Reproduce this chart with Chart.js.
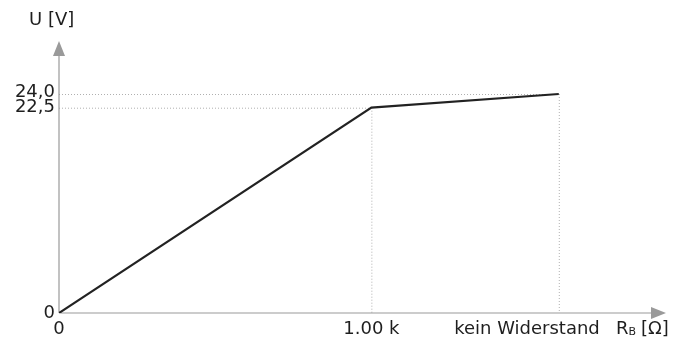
<!DOCTYPE html>
<html>
<head>
<meta charset="utf-8">
<script src="https://cdn.jsdelivr.net/npm/chart.js@4"></script>
<style>
  html, body { margin: 0; padding: 0; background: #fff; }
  canvas { display: block; }
</style>
</head>
<body>
<canvas id="chart" width="683" height="347"></canvas>
<script>
// schematic x positions: 0, 1.00 k, "kein Widerstand" (no resistor)
const xPositions = [0, 1, 1.6];
const xLabels = ["0", "1.00 k", "kein Widerstand"];
const voltage = [0, 22.5, 24.0];
const yTicks = [0, 22.5, 24.0];
const yLabels = ["0", "22,5", "24,0"];

const FAMILY = '"DejaVu Sans", sans-serif';
const FONT = "18px " + FAMILY;
const TEXT = "#1e1e1e";
const AXIS = "#9a9a9a";

const axesPlugin = {
    id: "axes",
    beforeDatasetsDraw(chart) {
        const { ctx, chartArea: a, scales: { x, y } } = chart;
        ctx.save();

        // dotted guide lines
        ctx.strokeStyle = "#b0b0b0";
        ctx.lineWidth = 1;
        ctx.setLineDash([1, 2]);
        for (let i = 1; i < xPositions.length; i++) {
            const px = x.getPixelForValue(xPositions[i]);
            const py = y.getPixelForValue(voltage[i]);
            ctx.beginPath();
            ctx.moveTo(a.left, py + 0.5);
            ctx.lineTo(px, py + 0.5);
            ctx.moveTo(px + 0.5, py);
            ctx.lineTo(px + 0.5, a.bottom);
            ctx.stroke();
        }
        ctx.setLineDash([]);

        // axes with arrows
        const ox = x.getPixelForValue(0), oy = y.getPixelForValue(0);
        ctx.strokeStyle = AXIS;
        ctx.fillStyle = AXIS;
        ctx.lineWidth = 1.2;
        ctx.beginPath();
        ctx.moveTo(ox, oy);
        ctx.lineTo(ox, a.top + 10);
        ctx.moveTo(ox, oy);
        ctx.lineTo(a.right - 10, oy);
        ctx.stroke();
        ctx.beginPath();
        ctx.moveTo(ox, a.top - 1);
        ctx.lineTo(ox - 6, a.top + 14);
        ctx.lineTo(ox + 6, a.top + 14);
        ctx.closePath();
        ctx.fill();
        ctx.beginPath();
        ctx.moveTo(a.right + 1, oy);
        ctx.lineTo(a.right - 14, oy - 6);
        ctx.lineTo(a.right - 14, oy + 6);
        ctx.closePath();
        ctx.fill();

        // tick labels
        ctx.fillStyle = TEXT;
        ctx.font = FONT;
        ctx.textBaseline = "middle";
        ctx.textAlign = "right";
        yTicks.forEach((v, i) => {
            const off = v === 24 ? -2 : 0;
            ctx.fillText(yLabels[i], ox - 4, y.getPixelForValue(v) + off);
        });
        xPositions.forEach((v, i) => {
            const px = x.getPixelForValue(v);
            const last = i === xPositions.length - 1;
            ctx.textAlign = last ? "right" : "center";
            ctx.fillText(xLabels[i], last ? px + 41 : px, oy + 16);
        });

        // axis titles
        ctx.textAlign = "left";
        ctx.fillText("U [V]", 29, 20);
        let tx = 616;
        ctx.fillText("R", tx, oy + 16);
        tx += ctx.measureText("R").width;
        ctx.font = "11px " + FAMILY;
        ctx.fillText("B", tx, oy + 19);
        tx += ctx.measureText("B").width + 5;
        ctx.font = FONT;
        ctx.fillText("[Ω]", tx, oy + 16);

        ctx.restore();
    },
};

new Chart(document.getElementById("chart"), {
    type: "scatter",
    data: {
        datasets: [{
            data: xPositions.map((v, i) => ({ x: v, y: voltage[i] })),
            showLine: true,
            borderColor: "#222",
            borderWidth: 2.2,
            pointRadius: 0,
            tension: 0,
        }],
    },
    options: {
        responsive: false,
        animation: false,
        layout: { padding: { left: 59, right: 18, top: 42, bottom: 34 } },
        plugins: { legend: { display: false }, tooltip: { enabled: false } },
        scales: {
            x: { type: "linear", display: false, min: 0, max: 1.94 },
            y: { type: "linear", display: false, min: 0, max: 29.7 },
        },
    },
    plugins: [axesPlugin],
});
</script>
</body>
</html>
